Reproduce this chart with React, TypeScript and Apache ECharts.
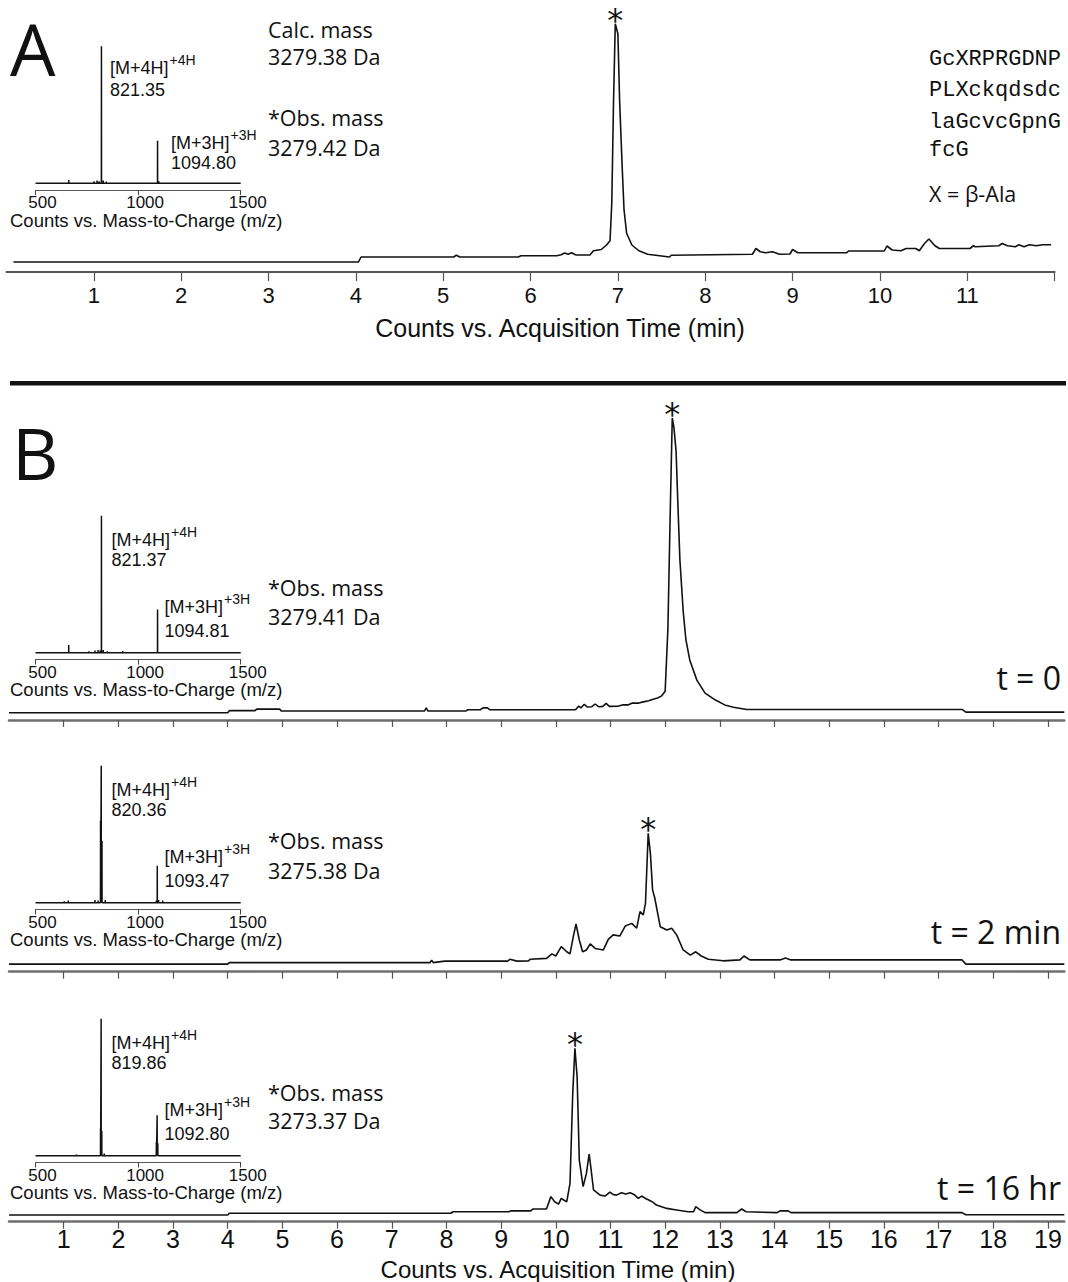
import { useEffect, useRef } from "react";
import * as echarts from "echarts";

// ---------- DATA ----------
// Chromatograms: [acquisition time (min), relative counts (%)]
const traceA: [number, number][] = [
  [0.08, 4.0], [4.03, 4.0], [4.06, 6.0], [5.12, 6.0], [5.15, 6.7], [5.19, 6.0], [5.86, 6.0], [5.89, 6.5],
  [6.3, 6.5], [6.35, 6.9], [6.39, 7.6], [6.43, 7.1], [6.47, 7.7], [6.52, 6.8], [6.68, 6.8], [6.72, 8.5],
  [6.81, 9.0], [6.87, 10.8], [6.91, 12.5], [6.93, 27.7], [6.95, 68.2], [6.97, 99.3], [7.0, 95.3],
  [7.02, 68.2], [7.05, 41.2], [7.07, 25.0], [7.1, 15.5], [7.16, 10.8], [7.24, 8.5], [7.34, 7.1],
  [7.59, 6.0], [7.61, 6.7], [8.54, 7.1], [8.58, 9.4], [8.63, 8.1], [8.69, 7.7], [8.77, 8.1], [8.85, 7.1],
  [8.97, 7.2], [9.0, 9.0], [9.06, 7.7], [9.62, 7.7], [9.64, 8.4], [10.05, 8.4], [10.08, 10.4],
  [10.14, 8.8], [10.24, 8.5], [10.3, 9.4], [10.41, 9.4], [10.45, 8.5], [10.51, 11.4], [10.56, 13.2],
  [10.63, 10.5], [10.68, 9.4], [11.03, 9.4], [11.07, 10.5], [11.09, 10.1], [11.36, 10.5], [11.4, 11.4],
  [11.46, 10.5], [11.55, 10.1], [11.59, 10.9], [11.65, 10.1], [11.71, 10.9], [11.79, 10.5], [11.86, 10.9],
  [11.96, 10.9],
];

const traceB0: [number, number][] = [
  [0, 2.4], [4.0, 2.4], [4.03, 3.1], [4.5, 3.1], [4.53, 3.6], [4.95, 3.6], [4.98, 3.0], [7.6, 3.0],
  [7.63, 4.0], [7.66, 3.0], [8.36, 3.0], [8.39, 3.4], [8.62, 3.4], [8.67, 4.0], [8.75, 4.0], [8.79, 3.4],
  [10.36, 3.4], [10.42, 4.6], [10.46, 4.0], [10.52, 5.2], [10.58, 4.3], [10.66, 4.4], [10.72, 5.3],
  [10.78, 4.4], [10.86, 4.5], [10.92, 5.5], [10.98, 4.5], [11.15, 4.6], [11.22, 5.0], [11.32, 5.0],
  [11.4, 5.6], [11.52, 5.6], [11.6, 6.0], [11.7, 6.4], [11.78, 6.9], [11.86, 7.3], [11.93, 7.9],
  [12.0, 9.5], [12.05, 30], [12.09, 66], [12.13, 100], [12.16, 97], [12.2, 89], [12.23, 73],
  [12.27, 53], [12.33, 36], [12.38, 26.5], [12.45, 19.9], [12.58, 13.2], [12.73, 8.9], [12.92, 6.6],
  [13.09, 5.0], [13.25, 4.2], [13.49, 3.5], [17.43, 3.5], [17.5, 2.6], [19.3, 2.6],
];

const traceB2: [number, number][] = [
  [0, 2.5], [4.0, 2.5], [4.03, 3.0], [7.7, 3.0], [7.73, 3.8], [7.76, 3.0], [7.97, 3.5], [9.12, 3.5],
  [9.16, 4.1], [9.29, 3.5], [9.5, 3.6], [9.53, 4.1], [9.83, 4.4], [9.93, 5.9], [10.0, 5.2], [10.1, 8.3],
  [10.2, 6.6], [10.26, 5.9], [10.32, 11.6], [10.37, 15.8], [10.43, 10.5], [10.49, 6.6], [10.56, 7.2],
  [10.63, 9.2], [10.72, 7.7], [10.87, 7.2], [10.96, 10.7], [11.05, 12.2], [11.17, 11.8], [11.27, 15.1],
  [11.39, 16.0], [11.48, 14.4], [11.54, 19.9], [11.6, 18.8], [11.64, 22.6], [11.69, 45.8], [11.73, 39.2],
  [11.77, 27.1], [11.81, 24.4], [11.91, 14.9], [12.03, 13.8], [12.12, 14.4], [12.21, 12.2], [12.33, 7.2],
  [12.46, 5.5], [12.56, 6.6], [12.66, 5.2], [12.79, 4.1], [13.06, 3.6], [13.37, 3.9], [13.44, 5.2],
  [13.55, 3.9], [14.1, 3.9], [14.2, 4.5], [14.3, 3.9], [17.43, 3.9], [17.5, 2.5], [19.3, 2.5],
];

const traceB16: [number, number][] = [
  [0, 2.2], [4.0, 2.2], [4.03, 2.8], [8.08, 2.8], [8.12, 3.3], [9.14, 3.3], [9.18, 3.6], [9.54, 3.6],
  [9.58, 4.2], [9.83, 4.2], [9.91, 8.3], [9.98, 6.6], [10.05, 5.8], [10.1, 7.7], [10.2, 6.6],
  [10.26, 12.7], [10.31, 42.5], [10.35, 57.4], [10.39, 48], [10.43, 20.4], [10.5, 11.6], [10.56, 16.0],
  [10.61, 22.4], [10.64, 18.2], [10.69, 10.5], [10.81, 8.8], [10.9, 8.5], [10.99, 9.8], [11.05, 9.0],
  [11.11, 8.8], [11.2, 9.6], [11.28, 9.2], [11.36, 9.6], [11.44, 8.9], [11.51, 7.7], [11.57, 8.5],
  [11.65, 7.6], [11.72, 7.0], [11.78, 6.4], [11.84, 5.5], [12.03, 4.4], [12.21, 3.9], [12.42, 3.3],
  [12.52, 3.3], [12.56, 5.0], [12.64, 3.9], [12.73, 3.0], [13.31, 3.0], [13.4, 4.2], [13.48, 3.3],
  [14.05, 3.0], [14.1, 3.6], [14.25, 3.6], [14.3, 3.0], [17.43, 3.0], [17.5, 2.3], [19.3, 2.3],
];

// Mass spectra (insets): [m/z, relative intensity (%)]
const specA: [number, number][] = [
  [662, 2.4], [785, 1.5], [800, 2], [810, 1.5], [821.35, 100], [830, 2], [845, 1.2], [1094.8, 31], [1101, 1.5],
];
const specB0: [number, number][] = [
  [662, 5.6], [760, 1], [790, 1.5], [805, 2], [815, 1.5], [821.37, 100], [830, 2], [850, 1], [925, 1.2], [1094.81, 31.5],
];
const specB2: [number, number][] = [
  [640, 1], [660, 1.5], [790, 2], [805, 1.5], [817, 60], [820.36, 100], [824, 45], [840, 2],
  [1089, 1.5], [1093.47, 27], [1100, 2], [1120, 1.5],
];
const specB16: [number, number][] = [
  [700, 0.8], [817, 20], [819.86, 100], [823, 18], [835, 1.5], [1089, 10], [1092.8, 29.5], [1096, 9],
];

const ticksA = [1, 2, 3, 4, 5, 6, 7, 8, 9, 10, 11, 12];
const labelsA = [1, 2, 3, 4, 5, 6, 7, 8, 9, 10, 11];
const ticksB = [1, 2, 3, 4, 5, 6, 7, 8, 9, 10, 11, 12, 13, 14, 15, 16, 17, 18, 19];
const ticksMz = [500, 1000, 1500];

const ion4Values = ["821.35", "821.37", "820.36", "819.86"];
const ion3Values = ["1094.80", "1094.81", "1093.47", "1092.80"];
const massNotes = [
  ["Calc. mass", "3279.38 Da", "*Obs. mass", "3279.42 Da"],
  ["*Obs. mass", "3279.41 Da"],
  ["*Obs. mass", "3275.38 Da"],
  ["*Obs. mass", "3273.37 Da"],
];
const timeLabels = ["t = 0", "t = 2 min", "t = 16 hr"];
const sequenceLines = ["GcXRPRGDNP", "PLXckqdsdc", "laGcvcGpnG", "fcG"];

// ---------- LAYOUT ----------
const FS = '"Liberation Sans", Arial, sans-serif';
const FO = '"Open Sans", "Noto Sans", sans-serif';
const FM = '"Liberation Mono", "DejaVu Sans Mono", monospace';
const INK = "#111";

const mainGrids = [
  { left: 6.45, right: 13.35, top: 22, bottom: 1010 },
  { left: 9, right: 3.7, top: 418, bottom: 562 },
  { left: 9, right: 3.7, top: 669.7, bottom: 310.3 },
  { left: 9, right: 3.7, top: 919.7, bottom: 60.3 },
];
const insetBases = [183.3, 652.7, 902.7, 1155.7];
const noteYs = [[29, 56, 117, 147], [587, 616], [840, 870], [1092, 1120]];
const timeLabelYs = [677, 931, 1187];

function sticks(peaks: [number, number][]) {
  const d: [number, number][] = [[500, 0]];
  [...peaks].sort((a, b) => a[0] - b[0]).forEach(([mz, h]) => {
    d.push([mz - 0.4, 0], [mz, h], [mz + 0.4, 0]);
  });
  d.push([1500, 0]);
  return d;
}

function peakOf(tr: [number, number][]) {
  return tr.reduce((a, b) => (b[1] > a[1] ? b : a));
}

function measure(t: string, font: string) {
  const c = document.createElement("canvas").getContext("2d");
  if (!c) return t.length * 9;
  c.font = font;
  return c.measureText(t).width;
}

function txt(text: string, x: number, y: number, size: number, family: string, align = "left") {
  return {
    type: "text",
    silent: true,
    style: {
      text,
      x,
      y,
      fontSize: size,
      fontFamily: family,
      fill: INK,
      align,
      verticalAlign: "middle",
      textAlign: align,
      textVerticalAlign: "middle",
    },
  };
}

export default function App() {
  const ref = useRef<HTMLDivElement>(null);

  useEffect(() => {
    if (!ref.current) return;
    const chart = echarts.init(ref.current, undefined, { renderer: "svg" });

    const traces = [traceA, traceB0, traceB2, traceB16];
    const specs = [specA, specB0, specB2, specB16];

    const grids: any[] = [];
    const xAxes: any[] = [];
    const yAxes: any[] = [];
    const series: any[] = [];

    mainGrids.forEach((g, i) => {
      grids.push({ ...g, containLabel: false, outerBoundsMode: "none" });
      const isA = i === 0;
      const showLabels = i === 0 || i === 3;
      xAxes.push({
        type: "value",
        gridIndex: i,
        min: 0,
        max: isA ? 12 : 19.3,
        interval: 1,
        axisLine: { show: true, onZero: false, lineStyle: { color: isA ? "#555" : "#6f6f6f", width: isA ? 2 : 2.5 } },
        axisTick: {
          show: true,
          length: isA ? 9 : 7,
          customValues: isA ? ticksA : ticksB,
          lineStyle: { color: "#555", width: 1.2 },
        },
        axisLabel: {
          show: showLabels,
          customValues: isA ? labelsA : ticksB,
          formatter: (v: number) =>
            Number.isInteger(v) && v >= 1 && v <= (isA ? 11 : 19) ? String(v) : "",
          fontSize: isA ? 22 : 25,
          fontFamily: FS,
          color: INK,
          margin: isA ? 12 : 5,
        },
        splitLine: { show: false },
      });
      yAxes.push({ type: "value", gridIndex: i, min: 0, max: 100, show: false });
      const pk = peakOf(traces[i]);
      series.push({
        type: "line",
        xAxisIndex: i,
        yAxisIndex: i,
        data: traces[i],
        symbol: "none",
        silent: true,
        lineStyle: { color: INK, width: 1.6 },
        markPoint: {
          symbol: "circle",
          symbolSize: 1,
          itemStyle: { color: "rgba(0,0,0,0)" },
          label: {
            show: true,
            formatter: "*",
            position: "inside",
            offset: [0, -4],
            fontSize: 32,
            fontFamily: '"DejaVu Sans", sans-serif',
            color: INK,
          },
          data: [{ coord: pk }],
        },
      });
    });

    insetBases.forEach((base, k) => {
      const gi = 4 + k;
      grids.push({
        left: 35.5,
        width: 205.2,
        top: base - 137,
        height: 143.85,
        containLabel: false,
        outerBoundsMode: "none",
      });
      xAxes.push({
        type: "value",
        gridIndex: gi,
        min: 500,
        max: 1500,
        interval: 500,
        axisLine: { show: true, onZero: false, lineStyle: { color: "#555", width: 1 } },
        axisTick: { show: true, length: 5, customValues: ticksMz, lineStyle: { color: "#444" } },
        axisLabel: {
          show: true,
          customValues: ticksMz,
          formatter: (v: number) => String(v),
          fontSize: 17,
          fontFamily: FS,
          color: INK,
          margin: 4,
          padding: [0, 0, 0, 14],
        },
        splitLine: { show: false },
      });
      yAxes.push({ type: "value", gridIndex: gi, min: -5, max: 100, show: false });
      series.push({
        type: "line",
        xAxisIndex: gi,
        yAxisIndex: gi,
        data: sticks(specs[k]),
        symbol: "none",
        silent: true,
        lineStyle: { color: INK, width: 1.5 },
      });
    });

    const els: any[] = [];
    // Panel A texts
    els.push(txt("A", 10, 48, 72, FO));
    massNotes[0].forEach((t, j) => els.push(txt(t, 268, noteYs[0][j], 21.5, FO)));
    sequenceLines.forEach((t, j) => els.push(txt(t, 929, [59, 90.5, 122, 150.5][j], 22, FM)));
    els.push(txt("X = β-Ala", 929, 193, 21.5, FO));
    els.push(txt("Counts vs. Acquisition Time (min)", 560, 328, 25, FS, "center"));
    els.push({
      type: "rect",
      silent: true,
      shape: { x: 10, y: 381, width: 1056, height: 4.5 },
      style: { fill: INK },
    });
    // Panel B texts
    els.push(txt("B", 12, 452, 72, FO));
    for (let k = 1; k < 4; k++) {
      massNotes[k].forEach((t, j) => els.push(txt(t, 268, noteYs[k][j], 21.5, FO)));
      els.push(txt(timeLabels[k - 1], 1061, timeLabelYs[k - 1], 32, FO, "right"));
    }
    els.push(txt("Counts vs. Acquisition Time (min)", 558, 1269, 24, FS, "center"));

    // inset labels
    const mainFont = `18px ${FS}`;
    insetBases.forEach((base, k) => {
      const isA = k === 0;
      const d = isA ? [-115, -93, -40, -20] : [-113, -93, -46, -22];
      const x4 = isA ? 110 : 111.5;
      const x3 = isA ? 171 : 164.5;
      const w4 = measure("[M+4H]", mainFont);
      const w3 = measure("[M+3H]", mainFont);
      els.push(txt("[M+4H]", x4, base + d[0], 18, FS));
      els.push(txt("+4H", x4 + w4 + 1, base + d[0] - 8, 14, FS));
      els.push(txt(ion4Values[k], x4, base + d[1], 18, FS));
      els.push(txt("[M+3H]", x3, base + d[2], 18, FS));
      els.push(txt("+3H", x3 + w3 + 1, base + d[2] - 8, 14, FS));
      els.push(txt(ion3Values[k], x3, base + d[3], 18, FS));
      els.push(txt("Counts vs. Mass-to-Charge (m/z)", 10, base + 37, 18.5, FS));
    });

    chart.setOption({
      animation: false,
      backgroundColor: "#fff",
      grid: grids,
      xAxis: xAxes,
      yAxis: yAxes,
      series,
      graphic: { elements: els },
    });

    return () => chart.dispose();
  }, []);

  return (
    <div
      ref={ref}
      style={{ position: "absolute", left: 0, top: 0, width: 1068, height: 1282, background: "#fff" }}
    />
  );
}
